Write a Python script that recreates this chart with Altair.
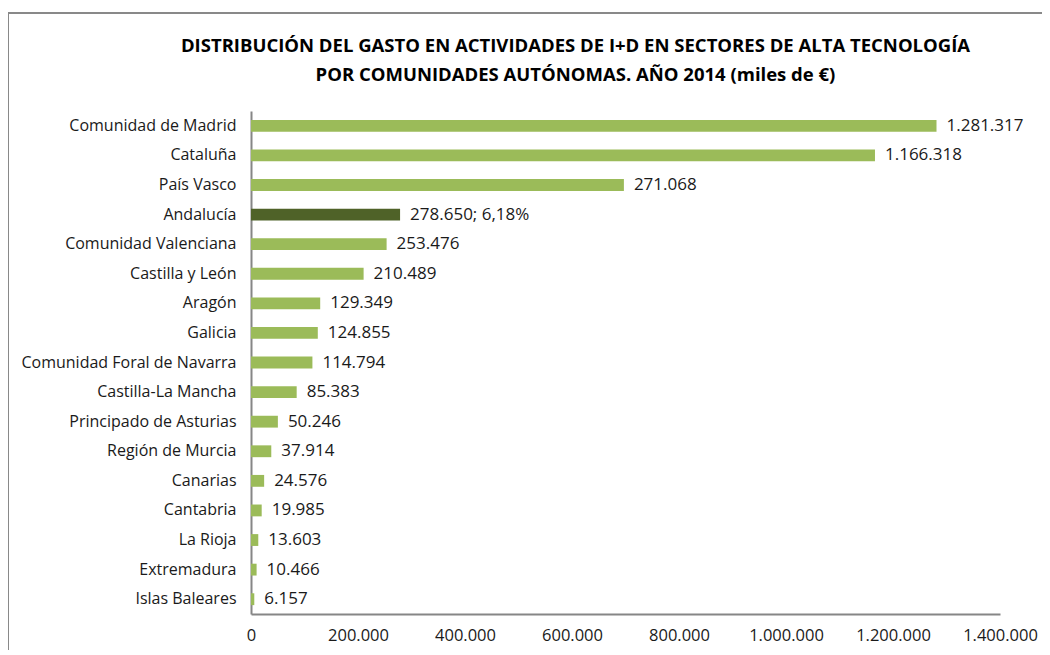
import altair as alt
import pandas as pd

regions = [
    "Comunidad de Madrid", "Cataluña", "País Vasco", "Andalucía",
    "Comunidad Valenciana", "Castilla y León", "Aragón", "Galicia",
    "Comunidad Foral de Navarra", "Castilla-La Mancha", "Principado de Asturias",
    "Región de Murcia", "Canarias", "Cantabria", "La Rioja", "Extremadura",
    "Islas Baleares",
]
values = [1281317, 1166318, 697000, 278650, 253476, 210489, 129349, 124855,
          114794, 85383, 50246, 37914, 24576, 19985, 13603, 10466, 6157]
labels = ["1.281.317", "1.166.318", "271.068", "278.650; 6,18%", "253.476",
          "210.489", "129.349", "124.855", "114.794", "85.383", "50.246",
          "37.914", "24.576", "19.985", "13.603", "10.466", "6.157"]
highlight = [r == "Andalucía" for r in regions]

title_text = ("DISTRIBUCIÓN  DEL GASTO EN ACTIVIDADES DE I+D EN SECTORES DE ALTA TECNOLOGÍA\n"
              "POR COMUNIDADES AUTÓNOMAS. AÑO 2014 (miles de €)")

df = pd.DataFrame({"region": regions, "value": values, "label": labels,
                   "hl": highlight})

FONT = "Open Sans"
TXT = "#1a1a1a"

y_enc = alt.Y("region:N", sort=regions, title=None,
              scale=alt.Scale(paddingInner=0.6, paddingOuter=0.3),
              axis=alt.Axis(domainColor="#868686", domainWidth=2, ticks=False,
                            labelFont=FONT, labelFontSize=16, labelColor=TXT,
                            labelPadding=15, labelLimit=400))
x_enc = alt.X("value:Q", title=None,
              scale=alt.Scale(domain=[0, 1400000], nice=False),
              axis=alt.Axis(values=[0, 200000, 400000, 600000, 800000, 1000000,
                                    1200000, 1400000],
                            labelExpr="replace(format(datum.value, ',d'), regexp(',', 'g'), '.')",
                            domainColor="#868686", domainWidth=2, ticks=False,
                            grid=False, labelFont=FONT, labelFontSize=16.5,
                            labelColor=TXT, labelPadding=13, labelFlush=False))

bars = alt.Chart(df).mark_bar().encode(
    y=y_enc, x=x_enc,
    color=alt.Color("hl:N", scale=alt.Scale(domain=[False, True],
                                            range=["#9BBB59", "#4F6228"]),
                    legend=None),
)

text = alt.Chart(df).mark_text(align="left", baseline="middle", dx=10,
                               font=FONT, fontSize=17, color=TXT).encode(
    y=alt.Y("region:N", sort=regions), x="value:Q", text="label:N")

one = pd.DataFrame({"a": [0]})

frame = alt.Chart(one).mark_rect(
    fill=None, stroke="#898989", strokeWidth=2).encode(
    x=alt.value(-243), x2=alt.value(820), y=alt.value(-98), y2=alt.value(600))

title = alt.Chart(one).mark_text(
    font=FONT, fontSize=18.5, fontWeight="bold", color="#000000",
    align="center", baseline="top", lineBreak="\n", lineHeight=29).encode(
    x=alt.value(324.5), y=alt.value(-74), text=alt.value(title_text))

chart = alt.layer(frame, title, bars, text).properties(
    width=749, height=503,
    autosize=alt.AutoSizeParams(type="none"),
    padding={"left": 243, "top": 103, "right": 42, "bottom": 36},
).configure_view(stroke=None)

chart.save("out.html", embed_options={"renderer": "svg", "actions": False})
